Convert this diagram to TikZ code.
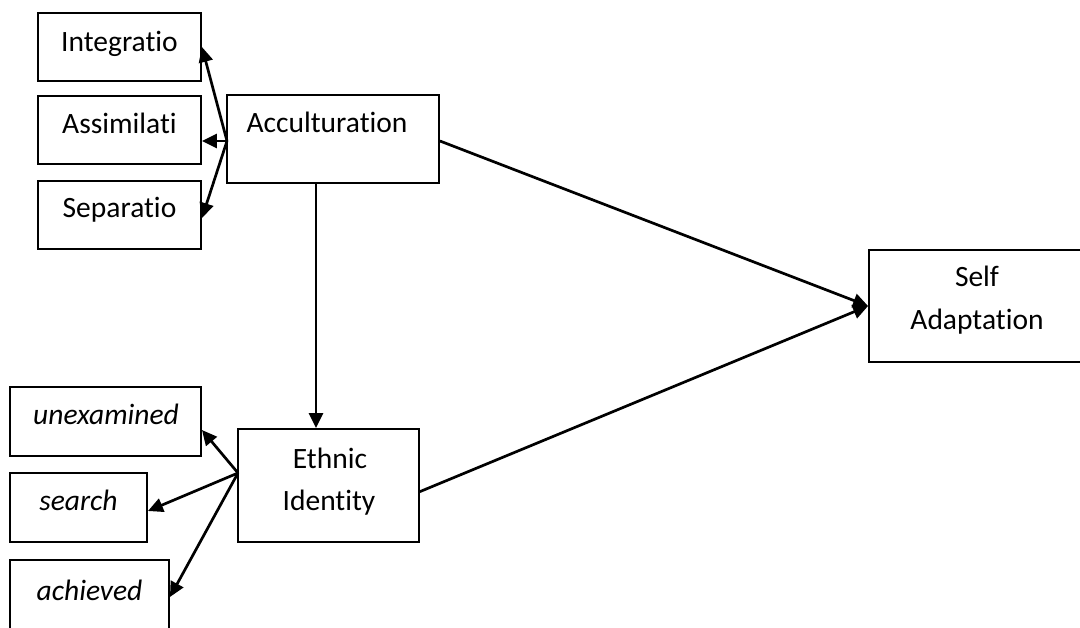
\documentclass[tikz,border=0pt]{standalone}
\usepackage{fontspec}
\setmainfont[Ligatures=NoCommon]{Carlito}
\usetikzlibrary{arrows.meta,calc}
\begin{document}
\begin{tikzpicture}[x=1pt,y=-1pt,
  box/.style={draw=black,line width=1.9pt,minimum width=#1,inner sep=0pt,rectangle},
  lbl/.style={anchor=base,inner sep=0pt,font=\fontsize{29.5}{43}\selectfont},
  ilbl/.style={lbl,font=\fontsize{29.5}{43}\selectfont\itshape},
  arr/.style={line width=2.7pt,-{Triangle[length=15pt,width=14pt]}}]
\useasboundingbox (0,0) rectangle (1080,628);
\clip (0,0) rectangle (1080,628);
% boxes
\node[box=163pt,minimum height=68pt] (int) at (119.5,47) {};
\node[box=163pt,minimum height=68pt] (asm) at (119.5,130) {};
\node[box=163pt,minimum height=68pt] (sep) at (119.5,215) {};
\node[box=212pt,minimum height=88pt] (acc) at (333,139) {};
\node[box=181pt,minimum height=113pt] (eth) at (328.5,485.5) {};
\node[box=191pt,minimum height=69pt] (une) at (105.5,421.5) {};
\node[box=137pt,minimum height=69pt] (sea) at (78.5,507.5) {};
\node[box=159pt,minimum height=90pt] (ach) at (89.5,605) {};
\node[box=216pt,minimum height=112pt] (sa) at (977,306) {};
% texts
\node[lbl] at (119.5,52) {Integratio};
\node[lbl] at (119.5,134) {Assimilati};
\node[lbl] at (119.5,218) {Separatio};
\node[lbl] at (327,133) {Acculturation};
\node[lbl] at (330,468) {Ethnic};
\node[lbl] at (329,510) {Identity};
\node[ilbl] at (106,425) {unexamined};
\node[ilbl] at (78.5,511) {search};
\node[ilbl] at (89.5,600) {achieved};
\node[lbl] at (977,287) {Self};
\node[lbl] at (977,330) {Adaptation};
% connector points
\coordinate (ao) at (227,141);
\coordinate (eo) at (238,473);
\coordinate (as) at (316,183);
\coordinate (er) at (419,492);
% connectors
\draw[arr] (ao) -- (int.east);
\draw[arr] (ao) -- (asm.east |- ao);
\draw[arr] (ao) -- ($(sep.east)+(0,3)$);
\draw[arr] (as) -- (as |- eth.north);
\draw[arr] (eo) -- ($(une.east)+(0,8.5)$);
\draw[arr] (eo) -- ($(sea.east)+(0,3.5)$);
\draw[arr] (eo) -- ($(ach.east)+(0,-8)$);
\draw[arr] (acc.east |- ao) -- (sa.west);
\draw[arr] (er) -- (sa.west);
\end{tikzpicture}
\end{document}
